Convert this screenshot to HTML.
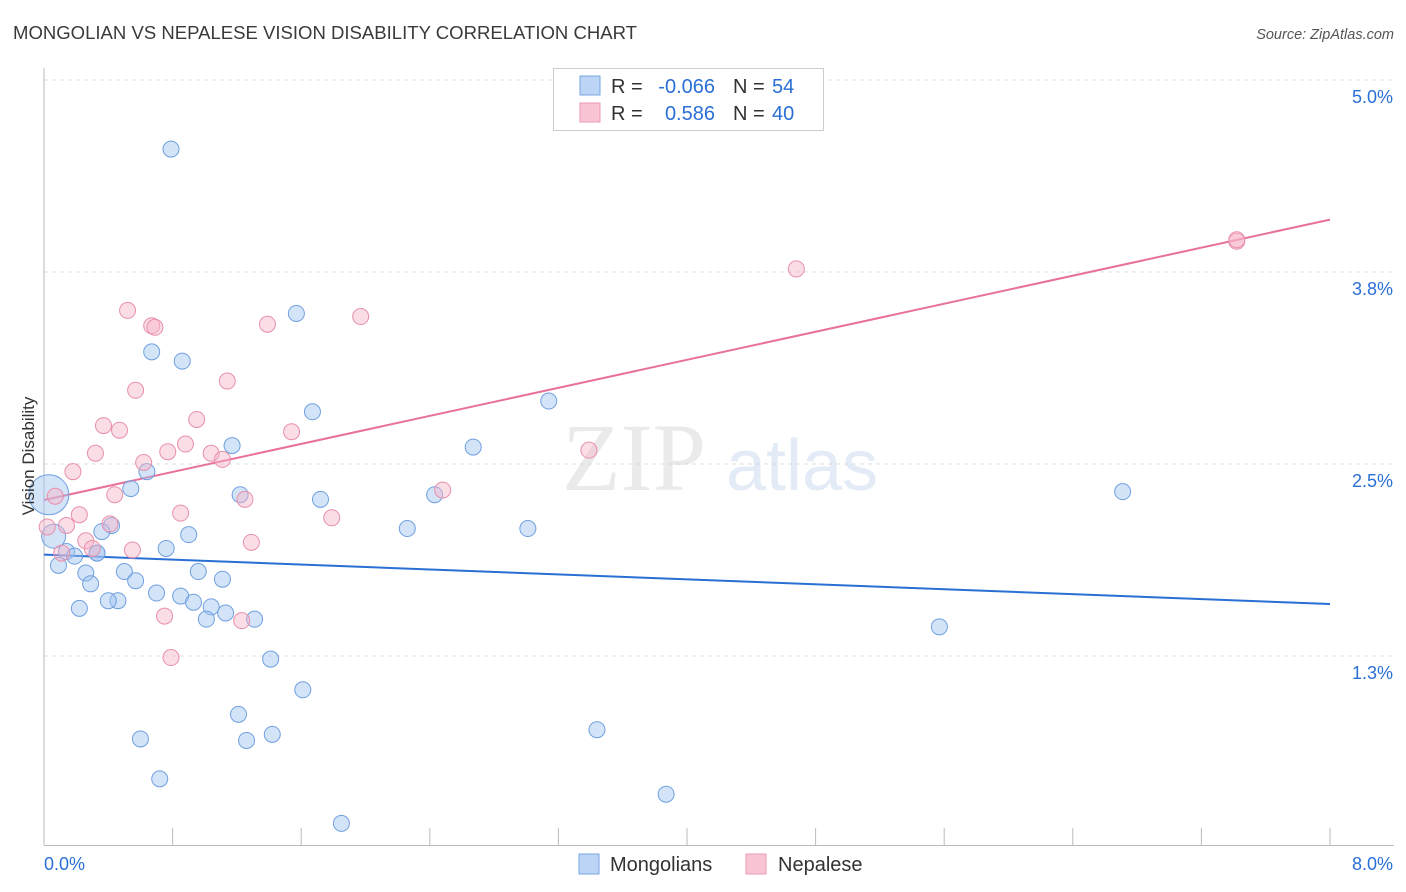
<!DOCTYPE html>
<html><head><meta charset="utf-8"><style>
body{margin:0;background:#fff;font-family:"Liberation Sans",sans-serif;}
svg{display:block}
</style></head><body>
<svg id="chart" width="1406" height="892" viewBox="0 0 1406 892" xmlns="http://www.w3.org/2000/svg">
<text x="13" y="39" font-size="18.5" fill="#3a3a3a" font-family="Liberation Sans, sans-serif" textLength="624" lengthAdjust="spacingAndGlyphs">MONGOLIAN VS NEPALESE VISION DISABILITY CORRELATION CHART</text>
<text x="1394" y="39" font-size="14.5" fill="#555" text-anchor="end" font-style="italic">Source: ZipAtlas.com</text>
<g id="grid"></g>
<g opacity="0.5">
<text x="634" y="490" font-size="96" font-family="Liberation Serif, serif" fill="#d6d6d6" text-anchor="middle">ZIP</text>
<text x="802" y="490" font-size="72" fill="#c7d8ef" text-anchor="middle">atlas</text>
</g>
<g id="axes"></g>
<g id="lines"></g>
<g id="points"></g>
<text transform="translate(34,456) rotate(-90)" font-size="17" fill="#333" text-anchor="middle">Vision Disability</text>
<g>
<rect x="553.5" y="68.5" width="270" height="62" fill="#fff" stroke="#ccc"/>
<rect x="580" y="76" width="20" height="19" fill="#bcd4f5" stroke="#7aa6e3"/>
<rect x="580" y="103" width="20" height="19" fill="#f9c5d4" stroke="#eb98b2"/>
<text x="611" y="93" font-size="20" fill="#333">R =</text>
<text x="715" y="93" font-size="20" fill="#2a6fd6" text-anchor="end">-0.066</text>
<text x="733" y="93" font-size="20" fill="#333">N =</text>
<text x="772" y="93" font-size="20" fill="#2a6fd6">54</text>
<text x="611" y="120" font-size="20" fill="#333">R =</text>
<text x="715" y="120" font-size="20" fill="#2a6fd6" text-anchor="end">0.586</text>
<text x="733" y="120" font-size="20" fill="#333">N =</text>
<text x="772" y="120" font-size="20" fill="#2a6fd6">40</text>
</g>
<g>
<rect x="579" y="854" width="20" height="20" fill="#bcd4f5" stroke="#7aa6e3"/>
<text x="610" y="871" font-size="20" fill="#333">Mongolians</text>
<rect x="746" y="854" width="20" height="20" fill="#f9c5d4" stroke="#eb98b2"/>
<text x="778" y="871" font-size="20" fill="#333">Nepalese</text>
</g>
</svg>
<script>
const blueX=[0.79,0.67,0.86,1.57,1.67,3.14,1.17,0.64,0.54,1.22,1.72,2.43,2.67,2.26,3.01,6.71,0.42,0.36,0.90,0.76,0.33,0.14,0.19,0.09,0.26,0.50,0.96,0.57,1.11,0.29,0.70,0.85,0.93,0.46,0.40,0.22,1.04,1.13,1.31,1.01,5.57,1.41,1.61,1.21,0.60,1.26,1.42,3.44,0.72,3.87,1.85,0.03,0.06,0.33];
const blueY=[4.55,3.23,3.17,3.48,2.84,2.91,2.62,2.45,2.34,2.30,2.27,2.30,2.61,2.08,2.08,2.32,2.10,2.06,2.04,1.95,1.92,1.93,1.90,1.84,1.79,1.80,1.80,1.74,1.75,1.72,1.66,1.64,1.60,1.61,1.61,1.56,1.57,1.53,1.49,1.49,1.44,1.23,1.03,0.87,0.71,0.70,0.74,0.77,0.45,0.35,0.16,2.30,2.03,1.92];
const blueR=[8,8,8,8,8,8,8,8,8,8,8,8,8,8,8,8,8,8,8,8,8,8,8,8,8,8,8,8,8,8,8,8,8,8,8,8,8,8,8,8,8,8,8,8,8,8,8,8,8,8,8,20,12,8];
const pinkX=[7.42,4.68,0.52,0.67,0.69,1.39,1.97,0.57,1.14,0.95,0.37,0.47,1.54,0.88,0.32,0.77,3.39,1.04,1.11,0.62,0.18,0.44,0.07,1.25,2.48,0.85,0.22,1.79,0.41,0.14,0.02,1.29,0.26,0.55,0.11,0.30,0.75,1.23,0.79,7.42];
const pinkY=[3.95,3.77,3.50,3.40,3.39,3.41,3.46,2.98,3.04,2.79,2.75,2.72,2.71,2.63,2.57,2.58,2.59,2.57,2.53,2.51,2.45,2.30,2.29,2.27,2.33,2.18,2.17,2.15,2.11,2.10,2.09,1.99,2.00,1.94,1.92,1.95,1.51,1.48,1.24,3.96];
const xTicks=[0,0.8,1.6,2.4,3.2,4.0,4.8,5.6,6.4,7.2,8.0];
const yTicks=[5.0,3.75,2.5,1.25];
const yTickLabels=["5.0%","3.8%","2.5%","1.3%"];
const xEndLabels=["0.0%","8.0%"];
const NS="http://www.w3.org/2000/svg";
const X0=44,X1=1330,Y0=848,PY=153.6;
function sx(v){return X0+(X1-X0)*v/8;}
function sy(v){return Y0-v*PY;}
function mk(tag,attrs,parent){const e=document.createElementNS(NS,tag);for(const k in attrs)e.setAttribute(k,attrs[k]);parent.appendChild(e);return e;}
const grid=document.getElementById('grid'),axes=document.getElementById('axes');
yTicks.forEach((t,i)=>{
 const l=mk('line',{x1:X0,x2:1394,y1:sy(t),y2:sy(t),stroke:'#ddd','stroke-dasharray':'4,4'},grid);
 
 
 const tx=mk('text',{x:1393,y:sy(t)+23,'font-size':18,fill:'#2a6fd6','text-anchor':'end'},axes);
 tx.textContent=yTickLabels[i];
 
 
});
const ax=mk('line',{x1:X0,x2:1394,y1:845.5,y2:845.5,stroke:'#bbb'},axes);


const ay=mk('line',{x1:X0,x2:X0,y1:68,y2:845,stroke:'#bbb'},axes);


xTicks.forEach(t=>{
 const l=mk('line',{x1:sx(t),x2:sx(t),y1:828,y2:845,stroke:'#bbb'},axes);
 
 
});
[[0,'start'],[8,'end']].forEach((p,i)=>{
 const tx=mk('text',{x:i?1393:44,y:870,'font-size':18,fill:'#2a6fd6','text-anchor':p[1]},axes);
 tx.textContent=xEndLabels[i];
 
 
});
function fit(xs,ys){const n=xs.length;let mx=0,my=0;for(let i=0;i<n;i++){mx+=xs[i];my+=ys[i];}mx/=n;my/=n;let a=0,b=0;for(let i=0;i<n;i++){a+=(xs[i]-mx)*(ys[i]-my);b+=(xs[i]-mx)**2;}const s=a/b;return [my-s*mx,s];}
const pts=document.getElementById('points'),lines=document.getElementById('lines');
blueX.forEach((x,i)=>{
 const c=mk('circle',{cx:sx(x),cy:sy(blueY[i]),r:blueR[i],fill:'rgba(160,196,240,0.45)',stroke:'#6fa0e0','stroke-width':1},pts);
 
 
});
pinkX.forEach((x,i)=>{
 const c=mk('circle',{cx:sx(x),cy:sy(pinkY[i]),r:8,fill:'rgba(247,180,200,0.45)',stroke:'#e890ab','stroke-width':1},pts);
 
 
});
const fb=fit(blueX,blueY),fp=fit(pinkX,pinkY);
const lb=mk('line',{x1:sx(0),x2:sx(8),y1:sy(fb[0]),y2:sy(fb[0]+8*fb[1]),stroke:'#2a6fd6','stroke-width':2},lines);


const lp=mk('line',{x1:sx(0),x2:sx(8),y1:sy(fp[0]),y2:sy(fp[0]+8*fp[1]),stroke:'#e8709a','stroke-width':2},lines);


</script>
</body></html>
